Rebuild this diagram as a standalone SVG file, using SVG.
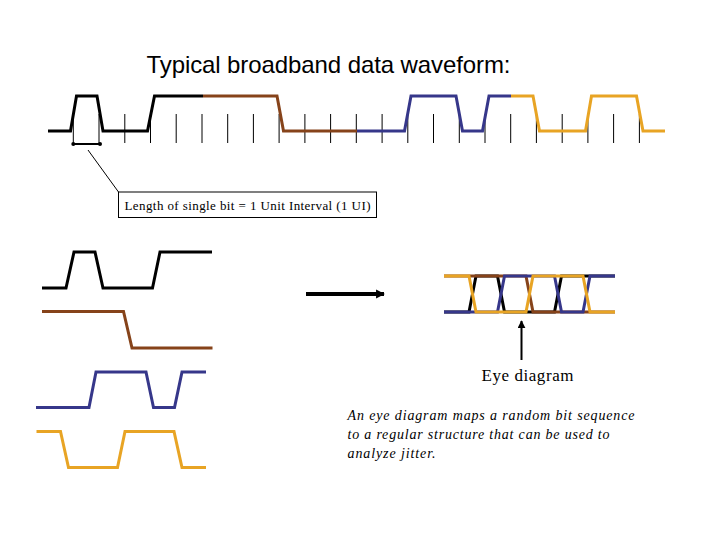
<svg xmlns="http://www.w3.org/2000/svg" width="720" height="540" viewBox="0 0 720 540">
<style>
.w{fill:none;stroke-width:3;stroke-linejoin:miter;stroke-linecap:butt}
.k{stroke:#000}
.br{stroke:#86431a}
.bl{stroke:#36378a}
.or{stroke:#e8a424}
.tick{stroke:#000;stroke-width:1}
.serif{font-family:"Liberation Serif","Times New Roman",serif}
</style>
<defs>
<marker id="ah" viewBox="0 0 10 10" refX="9" refY="5" markerWidth="2.2" markerHeight="2.4" orient="auto" markerUnits="strokeWidth">
<path d="M0,0 L10,5 L0,10 Z" fill="#000"/>
</marker>
<marker id="ah2" viewBox="0 0 10 10" refX="9" refY="5" markerWidth="4" markerHeight="4" orient="auto" markerUnits="strokeWidth">
<path d="M0,0 L10,5 L0,10 Z" fill="#000"/>
</marker>
</defs>
<rect width="720" height="540" fill="#fff"/>

<g id="title">
<text x="146.5" y="73" font-family="'Liberation Sans',Arial,sans-serif" font-size="24" textLength="364" lengthAdjust="spacing">Typical broadband data waveform:</text>
</g>

<g id="top-waveform">
<g id="ticks">
<path class="tick" d="M73.3,114V143M99,114V143M124.8,114V143M150.5,114V143M176.2,114V143M202,114V143M227.7,114V143M253.4,114V143M279.1,114V143M304.9,114V143M330.6,114V143M356.3,114V143M382.1,114V143M407.8,114V143M433.5,114V143M459.3,114V143M485,114V143M510.7,114V143M536.4,114V143M562.2,114V143M587.9,114V143M613.6,114V143M639.4,114V143"/>
</g>
<polyline class="w k" points="48,131 70.5,131 76.5,96 97,96 103,131 147.5,131 154.5,96 203,96"/>
<polyline class="w br" points="203,96 277,96 283.5,131 357,131"/>
<polyline class="w bl" points="357,131 404.5,131 411,96 456,96 462.5,131 482.5,131 489,96 511,96"/>
<polyline class="w or" points="511,96 533,96 539.5,131 585.5,131 591.5,96 636.5,96 643,131 665,131"/>
<g id="ui-bar">
<line x1="73.3" y1="144" x2="100" y2="144" stroke="#000" stroke-width="2"/>
<circle cx="73.3" cy="144" r="2" fill="#000"/>
<circle cx="100" cy="144" r="2" fill="#000"/>
</g>
</g>

<g id="ui-label">
<rect x="118.5" y="192" width="258" height="25.5" fill="#fff" stroke="#000" stroke-width="1"/>
<text class="serif" x="124.5" y="209.5" font-size="13" textLength="246" lengthAdjust="spacing">Length of single bit = 1 Unit Interval (1 UI)</text>
</g>

<g id="waveform-black">
<polyline class="w k" points="42,288 66,288 74,252 95,252 103,288 152.5,288 160,252 212,252"/>
</g>
<g id="waveform-brown">
<polyline class="w br" points="42,311.5 123.5,311.5 132,348 212.5,348"/>
</g>
<g id="waveform-blue">
<polyline class="w bl" points="36,407.5 89,407.5 96,372 146,372 153.5,407.5 174.5,407.5 182,372 206,372"/>
</g>
<g id="waveform-orange">
<polyline class="w or" points="36.5,431.5 60.5,431.5 68.5,467.5 117.5,467.5 125,431.5 174,431.5 182,467.5 206,467.5"/>
</g>

<g id="eye-diagram">
<polyline class="w k" points="444,312 469,312 476,276 497.5,276 504.5,312 554.5,312 561.5,276 615,276"/>
<polyline class="w br" points="444,276 526,276 533,312 615,312"/>
<polyline class="w bl" points="444,312 497.5,312 504.5,276 554.5,276 561.5,312 583,312 590,276 615,276"/>
<polyline class="w or" points="444,276 469,276 476,312 526,312 533,276 583,276 590,312 615,312"/>
</g>

<g id="eye-label">
<text class="serif" x="481.5" y="381" font-size="17" textLength="92" lengthAdjust="spacing">Eye diagram</text>
</g>

<g id="description" class="serif" font-size="14" font-style="italic">
<text x="347.5" y="419.5" textLength="287" lengthAdjust="spacing">An eye diagram maps a random bit sequence</text>
<text x="347.5" y="438.5" textLength="262" lengthAdjust="spacing">to a regular structure that can be used to</text>
<text x="347.5" y="457.5" textLength="88" lengthAdjust="spacing">analyze jitter.</text>
</g>

<g id="connectors">
<line x1="88" y1="150" x2="118.5" y2="192" stroke="#000" stroke-width="1"/>
<line x1="306" y1="294" x2="384" y2="294" stroke="#000" stroke-width="4" marker-end="url(#ah)"/>
<line x1="521.5" y1="360" x2="521.5" y2="321" stroke="#000" stroke-width="2" marker-end="url(#ah2)"/>
</g>
</svg>
